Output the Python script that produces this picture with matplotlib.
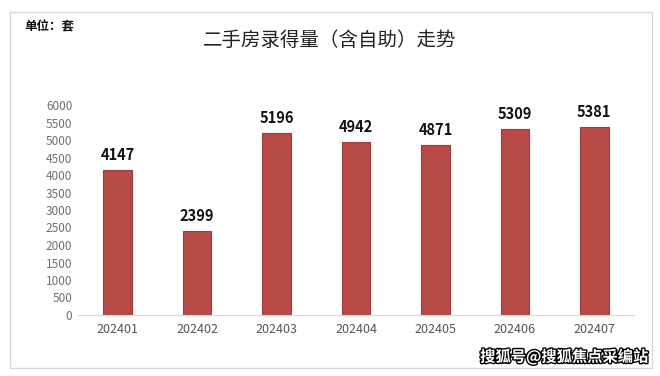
import matplotlib
matplotlib.use("Agg")
import matplotlib.pyplot as plt
from matplotlib.patches import Rectangle
import matplotlib.patheffects as pe

plt.rcParams['font.family'] = ['Noto Sans CJK SC', 'DejaVu Sans']

categories = ["202401", "202402", "202403", "202404", "202405", "202406", "202407"]
values = [4147, 2399, 5196, 4942, 4871, 5309, 5381]
yticks = list(range(0, 6001, 500))

W, H = 660, 376
fig = plt.figure(figsize=(W/100, H/100), dpi=100)
fig.patch.set_facecolor("white")

# outer frame
fig.add_artist(Rectangle((10/W, 1 - 368/H), 642/W, 356/H, transform=fig.transFigure,
                         fill=False, edgecolor="#d9d9d9", linewidth=1.0))

ax = fig.add_axes([78/W, 1 - 315/H, 556/W, 210/H])
x = range(len(categories))
ax.bar(x, values, width=0.36, color="#B84A47", edgecolor="#9E3A38", linewidth=0.8)
ax.set_xlim(-0.5, len(categories) - 0.5)
ax.set_ylim(0, 6000)
ax.set_yticks(yticks)
ax.set_yticklabels([str(t) for t in yticks], fontsize=8.5, color="#707070")
ax.set_xticks(list(x))
ax.set_xticklabels(categories, fontsize=9, color="#555555")
ax.tick_params(axis="both", length=0, pad=6)
ax.tick_params(axis="y", pad=4)
for s in ["top", "right", "left"]:
    ax.spines[s].set_visible(False)
ax.spines["bottom"].set_color("#d9d9d9")
for i, v in enumerate(values):
    ax.text(i, v + 200, str(v), ha="center", va="bottom", fontsize=10.5,
            fontweight="bold", color="#111111")

fig.text(330/W, 1 - 40/H, "二手房录得量（含自助）走势", ha="center", va="center",
         fontsize=14, color="#222222")
fig.text(24/W, 1 - 27/H, "单位：套", ha="left", va="center", fontsize=9,
         fontweight="bold", color="#111111")
fig.text(648/W, 1 - 357/H, "搜狐号@搜狐焦点采编站", ha="right", va="center", fontsize=11,
         fontweight="bold", color="white",
         path_effects=[pe.withStroke(linewidth=2, foreground="black")])

fig.savefig("out.png", dpi=100, facecolor="white")
